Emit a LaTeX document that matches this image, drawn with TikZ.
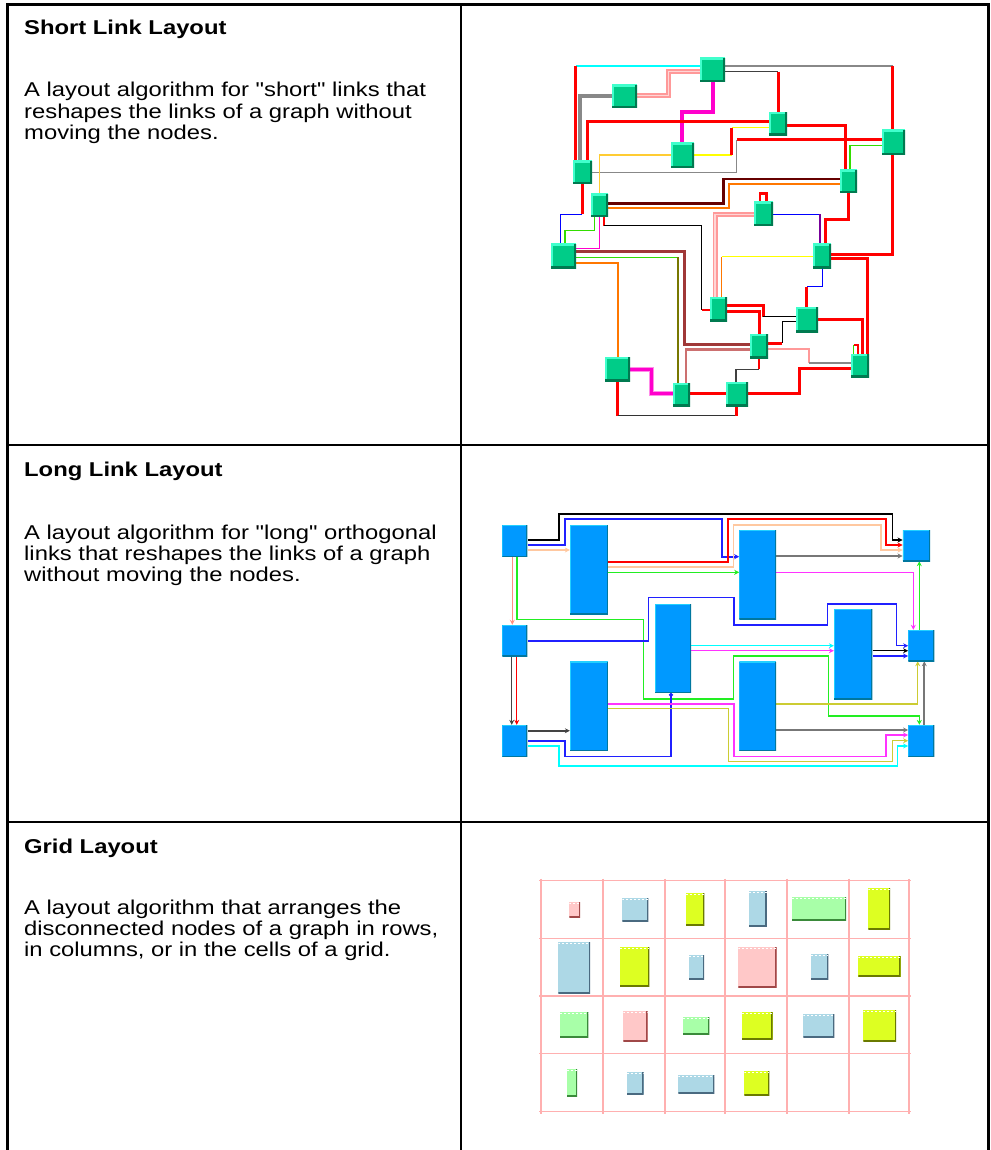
\documentclass[tikz,border=0pt]{standalone}
\usepackage{fontspec}
% a plain family (no TeX ligature mapping) so that " stays a straight quote
\newfontfamily\descfont{Liberation Sans}[FakeStretch=1.19]
\usetikzlibrary{arrows.meta}
\pgfdeclarelayer{bg}
\pgfsetlayers{bg,main}

% node colours
\definecolor{slfill}{HTML}{00CC88}
\definecolor{slhi}{HTML}{40FFCC}
\definecolor{sllo}{HTML}{007A50}
\definecolor{llfill}{HTML}{0099FF}
\definecolor{llhi}{HTML}{22D0FF}
\definecolor{lllo}{HTML}{00779F}
% link colours (short links)
\definecolor{lkred}{HTML}{FF0000}
\definecolor{lkpink}{HTML}{FF9999}
\definecolor{lkpinkc}{HTML}{FFD6D6}
\definecolor{lkgreen}{HTML}{33DD00}
\definecolor{lkgold}{HTML}{FFCC33}
\definecolor{lkyel}{HTML}{FFFF00}
\definecolor{lkorange}{HTML}{FF7700}
\definecolor{lkmag}{HTML}{FF00CC}
\definecolor{lkbrown}{HTML}{A03838}
\definecolor{lkolive}{HTML}{777700}
\definecolor{lkrose}{HTML}{CC7070}
\definecolor{lkdred}{HTML}{660000}
\definecolor{lkpurple}{HTML}{770099}
\definecolor{lkcyan}{HTML}{00FFFF}
\definecolor{lkgrey}{HTML}{888888}
\definecolor{lkblue}{HTML}{0000FF}
% link colours (long links)
\definecolor{llpeach}{HTML}{FFC8A0}
\definecolor{llsalmon}{HTML}{FF9080}
\definecolor{llgreen}{HTML}{22EE22}
\definecolor{llblue}{HTML}{2020FF}
\definecolor{llmag}{HTML}{FF33FF}
\definecolor{llyel}{HTML}{CCCC33}
\definecolor{llgrey}{HTML}{777777}
\definecolor{lldark}{HTML}{444444}
% grid colours
\definecolor{gline}{HTML}{FFB0B0}
\definecolor{gpink}{HTML}{FFC8C8}
\definecolor{gpinkd}{HTML}{A04848}
\definecolor{gblue}{HTML}{ADD8E6}
\definecolor{gblued}{HTML}{4A6A80}
\definecolor{gyel}{HTML}{DDFF22}
\definecolor{gyeld}{HTML}{6A7A00}
\definecolor{ggreen}{HTML}{A8FFA8}
\definecolor{ggreend}{HTML}{3A8A3A}

\tikzset{
  tbl/.style={line width=2.2pt, black},
  ttl/.style={anchor=base west, inner sep=0pt, font=\descfont\fontsize{20}{21.5}\selectfont\bfseries},
  txt/.style={anchor=base west, inner sep=0pt, font=\descfont\fontsize{20}{21.5}\selectfont},
  bevel/.style 2 args={path picture={
      \draw[#1, line width=4pt] (path picture bounding box.south west) -- (path picture bounding box.north west) -- (path picture bounding box.north east);
      \draw[#2, line width=4pt] (path picture bounding box.north east) -- (path picture bounding box.south east) -- (path picture bounding box.south west);}},
  slnode/.style 2 args={rectangle, inner sep=0pt, fill=slfill, minimum width=#1 pt, minimum height=#2 pt, bevel={slhi}{sllo}},
  llnode/.style 2 args={rectangle, inner sep=0pt, fill=llfill, minimum width=#1 pt, minimum height=#2 pt,
      path picture={
      \draw[llhi, line width=2pt] (path picture bounding box.south west) -- (path picture bounding box.north west) -- (path picture bounding box.north east);
      \draw[lllo, line width=2pt] (path picture bounding box.north east) -- (path picture bounding box.south east) -- (path picture bounding box.south west);}},
  gnode/.style n args={4}{rectangle, inner sep=0pt, fill=#3, minimum width=#1 pt, minimum height=#2 pt,
      path picture={
      \draw[#4, line width=3pt] (path picture bounding box.north east) -- (path picture bounding box.south east) -- (path picture bounding box.south west);
      \draw[white, line width=0.8pt, dash pattern=on 2pt off 2pt] ([yshift=-1.5pt]path picture bounding box.north west) -- ([yshift=-1.5pt]path picture bounding box.north east);}},
  lk/.style={line width=1.2pt, line join=miter},
  lkr/.style={lk, lkred, line width=3pt},
  pinkband/.style={lk, lkpink, line width=5pt, postaction={draw=lkpinkc, line width=1.5pt}},
  magband/.style={lk, lkmag!45, line width=5pt, postaction={draw=lkmag, line width=3pt}},
  ll/.style={line width=1.3pt, line join=miter, -{Stealth[length=5pt,width=5pt]}},
  gridln/.style={gline, line width=1.5pt},
}

\begin{document}
\begin{tikzpicture}[x=1pt, y=-1pt]
\path[use as bounding box] (0,0) rectangle (990,1150);

% ---------------- table frame ----------------
\draw[tbl] (7.5,1150) -- (7.5,4.5) -- (988.5,4.5) -- (988.5,1150);
\draw[tbl] (461,4.5) -- (461,1150);
\draw[tbl] (7.5,445) -- (988.5,445);
\draw[tbl] (7.5,822) -- (988.5,822);

% ---------------- descriptions ----------------
\node[ttl] (t1) at (24,34.5) {Short Link Layout};
\node[txt] (d1a) at (24,97) {A layout algorithm for "short" links that};
\node[txt] (d1b) at (24,118.5) {reshapes the links of a graph without};
\node[txt] (d1c) at (24,140) {moving the nodes.};

\node[ttl] (t2) at (24,476.5) {Long Link Layout};
\node[txt] (d2a) at (24,539) {A layout algorithm for "long" orthogonal};
\node[txt] (d2b) at (24,560) {links that reshapes the links of a graph};
\node[txt] (d2c) at (24,581) {without moving the nodes.};

\node[ttl] (t3) at (24,853.3) {Grid Layout};
\node[txt] (d3a) at (24,914.3) {A layout algorithm that arranges the};
\node[txt] (d3b) at (24,935.3) {disconnected nodes of a graph in rows,};
\node[txt] (d3c) at (24,956.3) {in columns, or in the cells of a grid.};

% ---------------- short link layout: nodes ----------------
\node[slnode={25}{24}] (n1) at (712.5,70) {};
\node[slnode={25}{23}] (n2) at (624.5,96.5) {};
\node[slnode={18}{23}] (n3) at (778,124) {};
\node[slnode={23}{25}] (n4) at (893.5,142.5) {};
\node[slnode={23}{25}] (n5) at (682.5,155.5) {};
\node[slnode={19}{23}] (n6) at (582.5,172.5) {};
\node[slnode={17}{23}] (n7) at (848.5,181.5) {};
\node[slnode={17}{23}] (n8) at (599.5,205.5) {};
\node[slnode={19}{24}] (n9) at (763.5,214) {};
\node[slnode={25}{24}] (n10) at (563.5,256) {};
\node[slnode={18}{24}] (n11) at (822,256) {};
\node[slnode={17}{24}] (n12) at (718.5,309) {};
\node[slnode={22}{25}] (n13) at (807,319.5) {};
\node[slnode={18}{24}] (n14) at (759,346) {};
\node[slnode={18}{23}] (n15) at (860,365.5) {};
\node[slnode={25}{24}] (n16) at (617.5,369) {};
\node[slnode={17}{23}] (n17) at (681.5,394.5) {};
\node[slnode={22}{24}] (n18) at (737,394) {};

% ---------------- short link layout: links ----------------
\begin{pgfonlayer}{bg}
\draw[lk, lkcyan] (n1.west |- 0,66) -- (575.7,66);
\draw[lkr] (575.7,66) -- (575.7,0 |- n6.north);
\draw[lk, lkgrey, line width=1.5pt] (n1.east |- 0,66) -- (892.7,66);
\draw[lkr] (892.7,66) -- (892.7,0 |- n4.north);
\draw[lkr] (892.7,0 |- n4.south) |- (n11.east |- 0,254);
\draw[lk, black!75, line width=1.5pt] (n1.east |- 0,71.7) -- (778.3,71.7);
\draw[lkr] (778.3,71.7) -- (778.3,0 |- n3.north);
\draw[pinkband] (n1.west |- 0,71.7) -| (668.3,95.7) -- (n2.east |- 0,95.7);
\draw[lk, lkmag, line width=4pt] (713.3,0 |- n1.south) |- (681.7,112.3) -- (681.7,0 |- n5.north);
\draw[lk, lkgrey, line width=4pt] (n2.west |- 0,95.7) -| (580,0 |- n6.north);
\draw[lkr] (n3.west |- 0,121.7) -| (587.3,0 |- n6.north);
\draw[lkr] (n3.east |- 0,125.7) -| (845,0 |- n7.north);
\draw[lk, lkyel] (n5.east |- 0,155) -- (731.7,155);
\draw[lkr, line width=2.5pt] (731.7,155) -- (731.7,127.7);
\draw[lk, lkyel] (731.7,127.7) -- (n3.west |- 0,127.7);
\draw[lkr] (n4.west |- 0,140) -- (736.7,140);
\draw[lk, lkgrey, line width=1.5pt] (736.7,140) |- (n6.east |- 0,172.7);
\draw[lk, lkgreen] (n4.west |- 0,145.7) -| (850,0 |- n7.north);
\draw[lk, lkgold] (n5.west |- 0,155) -| (599.3,0 |- n8.north);
\draw[lk, lkdred, line width=2.5pt] (n7.west |- 0,179) -| (723.3,203.3) -- (n8.east |- 0,203.3);
\draw[lk, lkorange, line width=2pt] (n7.west |- 0,184.3) -| (729,207.7) -- (n8.east |- 0,207.7);
\draw[lk, lkred, line width=2.5pt] (760,0 |- n9.north) -- (760,193.5) -- (766.5,193.5) -- (766.5,0 |- n9.north);
\draw[lk, lkblue] (n9.east |- 0,214.3) -- (820,214.3);
\draw[lk, lkpurple, line width=1.5pt] (820,214.3) -- (820,0 |- n11.north);
\draw[pinkband] (n9.west |- 0,214.3) -| (715,0 |- n12.north);
\draw[lkr] (848.3,0 |- n7.south) |- (825,219.3) -- (825,0 |- n11.north);
\draw[lkr] (582.3,0 |- n6.south) -- (582.3,214.3);
\draw[lk, lkblue] (582.3,214.3) -| (560.7,0 |- n10.north);
\draw[lk, lkgreen] (594.3,0 |- n8.south) |- (565,230.7) -- (565,0 |- n10.north);
\draw[lk, lkmag] (599.3,0 |- n8.south) |- (n10.east |- 0,248.3);
\draw[lkr, line width=2pt] (604,0 |- n8.south) -- (604,225.7);
\draw[lk, black, line width=1.5pt] (604,225.7) -| (701.7,310);
\draw[lkr, line width=2pt] (701.7,310) -- (n12.west |- 0,310);
\draw[lk, lkyel] (n11.west |- 0,256.7) -- (721.7,256.7);
\draw[lk, lkorange, line width=1.5pt] (721.7,256.7) -- (721.7,0 |- n12.north);
\draw[lkr] (n11.east |- 0,258) -| (867.3,0 |- n15.north);
\draw[lk, lkblue, line width=1.5pt] (822.7,0 |- n11.south) |- (806.7,286.7);
\draw[lkr] (806.7,286.7) -- (806.7,0 |- n13.north);
\draw[lk, lkbrown, line width=3pt] (n10.east |- 0,251.7) -| (684,344.3) -- (n14.west |- 0,344.3);
\draw[lk, lkgreen, line width=1.5pt] (n10.east |- 0,257.3) -- (678.3,257.3);
\draw[lk, lkolive, line width=2pt] (678.3,257.3) -- (678.3,0 |- n17.north);
\draw[lk, lkorange, line width=2pt] (n10.east |- 0,263.3) -| (618.3,0 |- n16.north);
\draw[lk, lkrose, line width=2.5pt] (n14.west |- 0,349.5) -| (686,0 |- n17.north);
\draw[lkr] (n12.east |- 0,305.5) -| (763.3,316.7);
\draw[lk, black, line width=1.5pt] (763.3,316.7) -- (n13.west |- 0,316.7);
\draw[lkr] (n12.east |- 0,311.7) -| (759.3,0 |- n14.north);
\draw[lk, black, line width=1.5pt] (n13.west |- 0,321.7) -| (782.3,343.3);
\draw[lkr] (782.3,343.3) -- (n14.east |- 0,343.3);
\draw[lkr] (n13.east |- 0,319) -| (862.3,0 |- n15.north);
\draw[lk, lkgreen] (853.5,345) -- (853.5,0 |- n15.north);
\draw[lk, lkred, line width=2pt] (853.5,345) -- (857.5,345) -- (857.5,0 |- n15.north);
\draw[lk, lkpink, line width=2pt] (n14.east |- 0,349) -| (809.3,363.3);
\draw[lk, lkgrey, line width=2pt] (809.3,363.3) -- (n15.west |- 0,363.3);
\draw[lkr] (n15.west |- 0,368) -| (799,393.3) -- (n18.east |- 0,393.3);
\draw[lkr, line width=2pt] (759.3,0 |- n14.south) -- (759.3,369.3);
\draw[lk, black!75, line width=1.5pt] (759.3,369.3) -| (736,0 |- n18.north);
\draw[magband] (n16.east |- 0,369) -| (651,393.3) -- (n17.west |- 0,393.3);
\draw[lkr] (n17.east |- 0,393.3) -- (n18.west |- 0,393.3);
\draw[lkr] (617.7,0 |- n16.south) -- (617.7,415.7);
\draw[lk, black!80, line width=1.5pt] (617.7,415.7) -- (736.7,415.7);
\draw[lkr] (736.7,415.7) -- (736.7,0 |- n18.south);
\end{pgfonlayer}

% ---------------- long link layout: nodes ----------------
\node[llnode={25}{31.7}] (B1) at (514.8,540.9) {};
\node[llnode={37.7}{89.3}] (B2) at (588.9,569.7) {};
\node[llnode={36.7}{89}] (B3) at (757.7,574.5) {};
\node[llnode={27.3}{31}] (B4) at (916.4,545.5) {};
\node[llnode={25}{31}] (B5) at (514.8,640.5) {};
\node[llnode={36}{88.7}] (B6) at (673,648.4) {};
\node[llnode={38.3}{90.3}] (B7) at (853.2,654.2) {};
\node[llnode={26}{31}] (B8) at (921.3,645.5) {};
\node[llnode={37.7}{89}] (B9) at (588.9,706.2) {};
\node[llnode={36.7}{89}] (B10) at (757.7,706.2) {};
\node[llnode={25}{31.7}] (B11) at (514.8,740.9) {};
\node[llnode={26}{31.7}] (B12) at (921.3,740.9) {};

% ---------------- long link layout: links ----------------
\begin{pgfonlayer}{bg}
\draw[ll, black, line width=1.5pt] (B1.east |- 0,540) -| (559,514) -| (892.7,540) -- (B4.west |- 0,540);
\draw[ll, llblue, line width=2.2pt] (B1.east |- 0,545) -| (565,519.3) -| (722.3,556.7) -- (B3.west |- 0,556.7);
\draw[ll, llpeach] (B1.east |- 0,550) -- (B2.west |- 0,550);
\draw[ll, llsalmon] (512.3,0 |- B1.south) -- (512.3,0 |- B5.north);
\draw[ll, llgreen, line width=1.6pt] (516.7,0 |- B1.south) |- (643.3,619.3) |- (733.3,699) |- (828.3,656) |- (919.3,715.7) -- (919.3,0 |- B12.north);
\draw[ll, lkred, line width=2.2pt] (B2.east |- 0,561.7) -| (728.3,519.3) -| (886,545) -- (B4.west |- 0,545);
\draw[ll, llpeach, line width=1.6pt] (B2.east |- 0,566.7) -| (733.3,525) -| (880.7,550) -- (B4.west |- 0,550);
\draw[ll, llgreen] (B2.east |- 0,572.3) -- (B3.west |- 0,572.3);
\draw[ll, llgrey] (B3.east |- 0,556) -- (B4.west |- 0,556);
\draw[ll, llmag] (B3.east |- 0,572.3) -| (913.3,0 |- B8.north);
\draw[ll, llgreen] (919.3,0 |- B8.north) -- (919.3,0 |- B4.south);
\draw[ll, llblue] (B5.east |- 0,641) -| (648.3,597.7) -| (734,625) -| (827.7,604) -| (896.7,645.7) -- (B8.west |- 0,645.7);
\draw[ll, lldark] (511.7,0 |- B5.south) -- (511.7,0 |- B11.north);
\draw[ll, lkred] (516.7,0 |- B5.south) -- (516.7,0 |- B11.north);
\draw[ll, lkcyan] (B6.east |- 0,645.7) -- (B7.west |- 0,645.7);
\draw[ll, llmag] (B6.east |- 0,650.7) -- (B7.west |- 0,650.7);
\draw[ll, black] (B7.east |- 0,650.7) -- (B8.west |- 0,650.7);
\draw[ll, llblue] (B7.east |- 0,656) -- (B8.west |- 0,656);
\draw[ll, lldark, line width=2.2pt] (B11.east |- 0,730.7) -- (B9.west |- 0,730.7);
\draw[ll, llblue, -{Circle[length=4pt]}] (B11.east |- 0,741) -| (565,756.7) -| (671,0 |- B6.south);
\draw[ll, lkcyan] (B11.east |- 0,746) -| (559,766) -| (897.7,746) -- (B12.west |- 0,746);
\draw[ll, llmag] (B9.east |- 0,704) -| (734,756.7) -| (886,735) -- (B12.west |- 0,735);
\draw[ll, llyel] (B9.east |- 0,708.3) -| (728.3,761.7) -| (892.3,740.7) -- (B12.west |- 0,740.7);
\draw[ll, llyel] (B10.east |- 0,704) -| (917.7,0 |- B8.south);
\draw[ll, llgrey, line width=2.2pt] (B10.east |- 0,730) -- (B12.west |- 0,730);
\draw[ll, llgrey, line width=2.2pt] (924.3,0 |- B12.north) -- (924.3,0 |- B8.south);
\end{pgfonlayer}

% ---------------- grid layout ----------------
\foreach \gx in {541,603,665,725,787,849,909} {
  \draw[gridln] (\gx,878.5) -- (\gx,1113.5);
}
\foreach \gy in {880.7,938.3,996,1053.7,1111.4} {
  \draw[gridln] (539,\gy) -- (911,\gy);
}
\node[gnode={10.7}{15.6}{gpink}{gpinkd}] (g11) at (574.7,909.5) {};
\node[gnode={26}{22.7}{gblue}{gblued}] (g12) at (635.3,909.7) {};
\node[gnode={18.3}{32.3}{gyel}{gyeld}] (g13) at (695.2,908.9) {};
\node[gnode={17.7}{36}{gblue}{gblued}] (g14) at (757.9,908.7) {};
\node[gnode={54.3}{23.4}{ggreen}{ggreend}] (g15) at (818.9,909) {};
\node[gnode={21.7}{41}{gyel}{gyeld}] (g16) at (879.2,908.8) {};
\node[gnode={31.7}{51.6}{gblue}{gblued}] (g21) at (574.2,967.5) {};
\node[gnode={29.3}{38.7}{gyel}{gyeld}] (g22) at (634.7,966.7) {};
\node[gnode={15}{24.3}{gblue}{gblued}] (g23) at (696.5,967.2) {};
\node[gnode={38.4}{41}{gpink}{gpinkd}] (g24) at (757.5,967.2) {};
\node[gnode={17.6}{25}{gblue}{gblued}] (g25) at (819.5,966.8) {};
\node[gnode={42.4}{20.7}{gyel}{gyeld}] (g26) at (879.5,966.4) {};
\node[gnode={28.3}{25}{ggreen}{ggreend}] (g31) at (574.2,1024.8) {};
\node[gnode={24.4}{30.3}{gpink}{gpinkd}] (g32) at (635.5,1025.9) {};
\node[gnode={26.6}{17.3}{ggreen}{ggreend}] (g33) at (696,1025.4) {};
\node[gnode={31}{26.7}{gyel}{gyeld}] (g34) at (757.2,1025.7) {};
\node[gnode={31}{23.3}{gblue}{gblued}] (g35) at (818.8,1025.7) {};
\node[gnode={32.7}{31}{gyel}{gyeld}] (g36) at (879.7,1025.5) {};
\node[gnode={10}{27}{ggreen}{ggreend}] (g41) at (572,1082.5) {};
\node[gnode={17}{22}{gblue}{gblued}] (g42) at (635,1083) {};
\node[gnode={36}{18}{gblue}{gblued}] (g43) at (696.3,1084) {};
\node[gnode={25}{24.3}{gyel}{gyeld}] (g44) at (756.8,1083) {};
\end{tikzpicture}
\end{document}
